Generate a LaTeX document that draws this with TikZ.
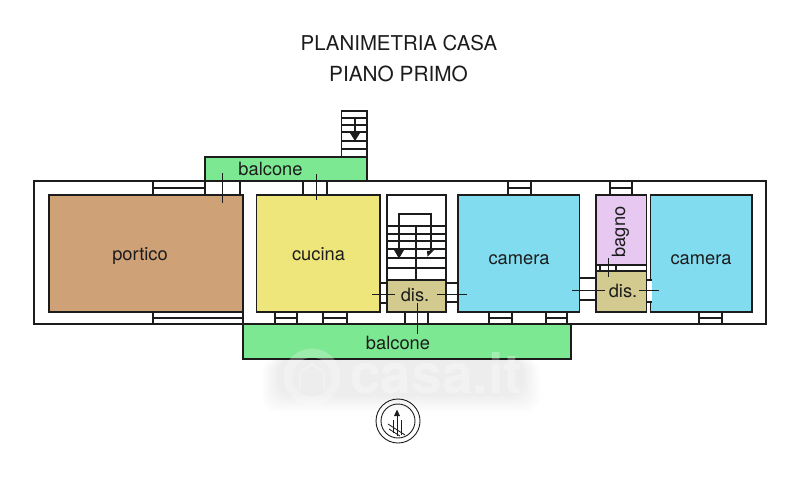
\documentclass[tikz,border=0pt]{standalone}
\usepackage{fontspec}
\setmainfont{TeX Gyre Heros}
\definecolor{cPortico}{HTML}{CFA176}
\definecolor{cYellow}{HTML}{EFE67B}
\definecolor{cBlue}{HTML}{82DCF0}
\definecolor{cGreen}{HTML}{7CE891}
\definecolor{cPink}{HTML}{E6C8F0}
\definecolor{cDis}{HTML}{D2CA8E}
\definecolor{cInk}{HTML}{1C1C1C}
\tikzset{
 wall/.style={draw=cInk,line width=1.7pt,line join=miter},
 thin wall/.style={draw=cInk,line width=1.3pt},
 cross/.style={draw=cInk,line width=0.8pt},
 room/.style={wall},
 glow/.style={black,opacity=.006,rounded corners=14pt},
 label/.style={font=\fontsize{18.3}{18.3}\selectfont,text=cInk,inner sep=0pt,anchor=base},
}
\newcommand{\winH}[4]{%
  \draw[thin wall] (#1,#3) -- (#1,#4) (#2,#3) -- (#2,#4) (#1,{(#3+#4)/2}) -- (#2,{(#3+#4)/2});}
\newcommand{\doorH}[4]{%
  \draw[thin wall] (#1,#3) -- (#1,#4) (#2,#3) -- (#2,#4);}
\begin{document}
\begin{tikzpicture}[x=1pt,y=-1pt]
\useasboundingbox (0,0) rectangle (800,483);
\fill[white] (0,0) rectangle (800,483);
% watermark ground, soft edged
\foreach \d in {0,2,...,16} {\fill[glow] ({262+\d},359) rectangle ({540-\d},{412-\d});}
% outer wall
\draw[wall] (34,181) rectangle (766,324);
% stairs outside and balconies
\draw[wall,fill=white] (341.5,111) rectangle (367,157);
\draw[thin wall] (341.5,118)--(367,118) (341.5,125)--(367,125) (341.5,132)--(367,132) (341.5,141)--(367,141) (341.5,149)--(367,149);
\draw[thin wall] (355,118)--(355,134);
\fill[cInk] (350,133)--(360,133)--(355,141)--cycle;
\draw[wall,fill=cGreen] (205,157) rectangle (367,181);
\draw[wall,fill=cGreen] (243,324) rectangle (571,359);
% rooms
\draw[room,fill=cPortico] (49,195) rectangle (243,312);
\draw[room,fill=cYellow] (256.5,195) rectangle (380,312);
\draw[room,fill=white] (387,195) rectangle (446,312);
\draw[room,fill=cBlue] (458,195) rectangle (579.5,312);
\draw[room,fill=cBlue] (650.5,195) rectangle (752,312);
\draw[thin wall,fill=cPink] (596,195) rectangle (646.5,265);
\draw[thin wall,fill=white] (596,265) rectangle (646.5,271);
\draw[thin wall,fill=cDis] (596,271) rectangle (646.5,312);
% inner stairs
\draw[thin wall] (387,226)--(446,226) (387,234)--(446,234) (387,241)--(446,241) (387,249)--(446,249) (387,258)--(446,258) (387,268)--(446,268);
\draw[thin wall] (416,226)--(416,280);
\draw[thin wall] (399,252)--(399,214)--(431,214)--(431,252);
\fill[cInk] (394,250)--(404,250)--(399,258.5)--cycle;
\fill[cInk] (427,251)--(434,250)--(427.5,256.5)--cycle;
\draw[thin wall,fill=cDis] (387,280) rectangle (446,312);
% windows top
\winH{153}{205}{181}{195}
\doorH{205}{240}{181}{195}
\doorH{303}{327}{181}{195}
\winH{508}{531}{181}{195}
\winH{610}{632}{181}{195}
% windows bottom
\winH{153}{243}{312}{324}
\winH{275}{297}{312}{324}
\winH{323}{347}{312}{324}
\doorH{405}{428}{312}{324}
\winH{489}{512}{312}{324}
\winH{546}{567}{312}{324}
\winH{699}{722}{312}{324}
% side openings
\draw[thin wall] (380,283)--(387,283) (380,303)--(387,303);
\draw[thin wall] (446,283)--(458,283) (446,302)--(458,302);
\draw[thin wall] (579.5,278)--(596,278) (579.5,300)--(596,300);
\fill[white] (647.3,280.7) rectangle (652,301.3);
\draw[thin wall] (647,280)--(652,280) (647,302)--(652,302);
\draw[thin wall] (600,265)--(600,271) (616,265)--(616,271);
% door swings
\draw[cross] (222,173)--(222,203);
\draw[cross] (316.5,174)--(316.5,200);
\draw[cross] (372,294)--(395,294);
\draw[cross] (437,294)--(467,294);
\draw[cross] (417,303)--(417,334);
\draw[cross] (572,290)--(605,290);
\draw[cross] (639,290)--(659,290);
\draw[cross] (608,258)--(608,277);
% watermark
\node[font=\fontsize{55}{55}\bfseries\selectfont,text=white,text opacity=.3,inner sep=0pt,anchor=base] (wm) at (436,393) {casa.it};
\draw[white,opacity=.25,line width=9pt] (312,377) circle (24);
\draw[white,opacity=.25,line width=2pt] (300,390)--(300,372)--(312,364)--(324,372)--(324,390);
% labels
\node[label] (tA) at (399,50) {\fontsize{20.4}{20.4}\selectfont PLANIMETRIA CASA};
\node[label] (tB) at (398.5,81) {\fontsize{20.8}{20.8}\selectfont PIANO PRIMO};
\node[label] (lBal1) at (270.5,175) {balcone};
\node[label] (lPor) at (140,260.5) {portico};
\node[label] (lCuc) at (318.5,260) {cucina};
\node[label] (lDis1) at (415,301) {dis.};
\node[label] (lCam1) at (519,264) {camera};
\node[label,rotate=90] (lBag) at (625,232) {bagno};
\node[label] (lCam2) at (701,264) {camera};
\node[label] (lDis2) at (623,297) {dis.};
\node[label] (lBal2) at (398,349) {balcone};
% compass
\draw[cInk,line width=0.9pt] (398,421) circle (22) (398,421) circle (17);
\draw[cInk,line width=0.8pt] (397,436)--(397,411) (393,433)--(393,420) (401,435)--(401,420);
\draw[cInk,line width=0.8pt] (388,424)--(405,435) (389,429)--(400,436);
\fill[cInk] (394,416)--(400,416)--(397,409.5)--cycle;
\end{tikzpicture}
\end{document}
